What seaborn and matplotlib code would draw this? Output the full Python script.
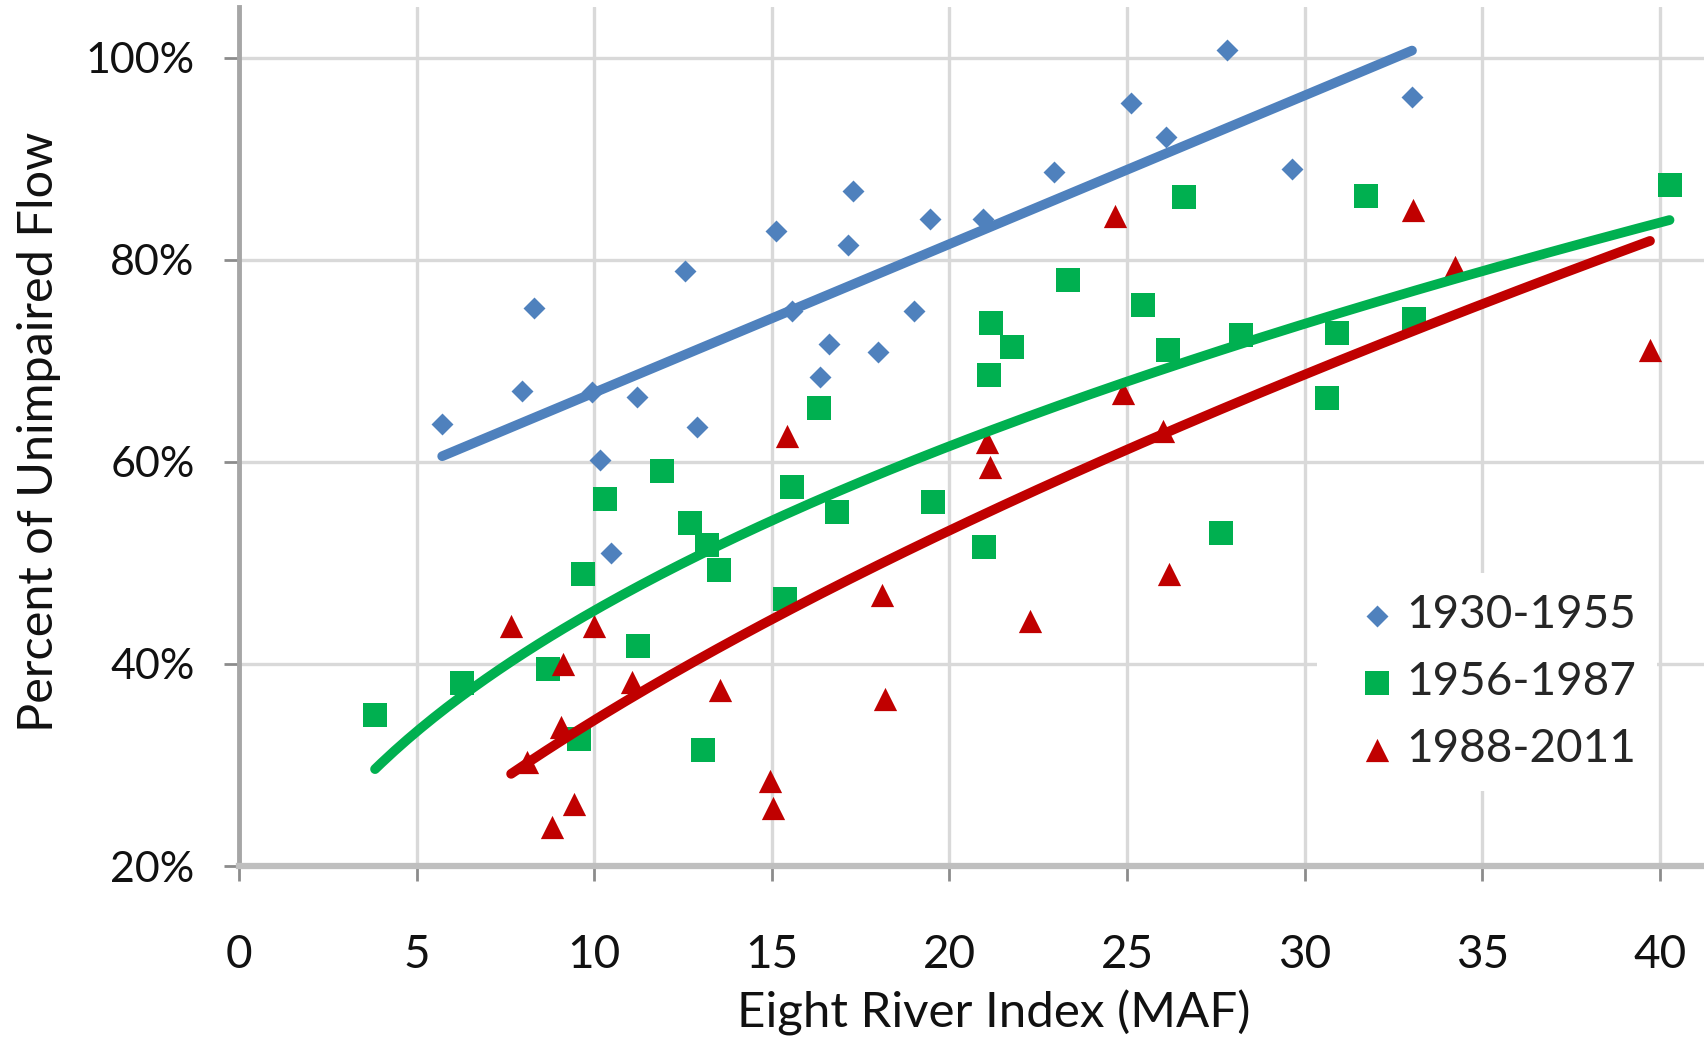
import numpy as np
import matplotlib
matplotlib.use("Agg")
import matplotlib.pyplot as plt
import seaborn as sns

# ---------------- data ----------------
x_1930 = [5.72, 7.97, 8.31, 9.94, 10.16, 10.47, 11.19, 12.56, 12.9, 15.11, 15.56, 16.36, 16.62,
          17.15, 17.28, 17.99, 19.0, 19.44, 20.94, 22.94, 25.1, 26.1, 27.82, 29.63, 33.02]
y_1930 = [63.7, 67.0, 75.25, 66.9, 60.2, 51.0, 66.4, 78.9, 63.4, 82.8, 74.9, 68.4, 71.7,
          81.4, 86.8, 70.9, 74.9, 84.0, 84.0, 88.65, 95.5, 92.1, 100.76, 89.0, 96.1]

x_1956 = [3.83, 6.27, 8.69, 9.58, 9.67, 10.31, 11.22, 11.9, 12.7, 13.07, 13.17, 13.5, 15.37, 15.56,
          16.33, 16.83, 19.55, 20.98, 21.12, 21.16, 21.75, 23.33, 25.46, 26.14, 26.6, 27.65,
          28.2, 30.62, 30.91, 31.72, 33.08, 40.27]
y_1956 = [34.9, 38.1, 39.5, 32.6, 48.85, 56.3, 41.75, 59.1, 53.9, 31.5, 51.75, 49.3, 46.4, 57.5,
          65.35, 55.05, 56.0, 51.6, 68.6, 73.7, 71.4, 78.0, 75.5, 71.05, 86.2, 53.0,
          72.5, 66.3, 72.7, 86.3, 74.1, 87.4]

x_1988 = [7.66, 8.1, 8.8, 9.07, 9.13, 9.42, 9.98, 11.07, 13.54, 14.95, 15.03, 15.43, 18.11, 18.18,
          21.05, 21.14, 22.27, 24.65, 24.89, 26.0, 26.17, 33.05, 34.24, 39.72]
y_1988 = [43.7, 30.3, 23.9, 33.8, 40.0, 26.1, 43.7, 38.2, 37.4, 28.4, 25.7, 62.5, 46.8, 36.5,
          62.0, 59.5, 44.2, 84.3, 66.8, 63.0, 48.85, 84.9, 79.3, 71.1]

series_labels = ["1930-1955", "1956-1987", "1988-2011"]
x_ticks = [0, 5, 10, 15, 20, 25, 30, 35, 40]
y_ticks = [20, 40, 60, 80, 100]
y_tick_labels = ["20%", "40%", "60%", "80%", "100%"]

# ---------------- style ----------------
sns.set_theme(style="white")
plt.rcParams['font.family'] = ['Lato', 'DejaVu Sans']

colors = ["#4F81BD", "#00B050", "#C00000"]
markers = ["D", "s", "^"]
sizes = [125, 300, 280]
fits = ["linear", "power_log", "power_ls"]


def power_fit_ls(xv, yv):
    """least-squares fit of y = a * x**b (in linear space)"""
    best = None
    for b in np.linspace(0.05, 1.5, 2901):
        xb = xv ** b
        a = np.sum(yv * xb) / np.sum(xb * xb)
        sse = np.sum((yv - a * xb) ** 2)
        if best is None or sse < best[0]:
            best = (sse, a, b)
    return best[1], best[2]


def power_fit_log(xv, yv):
    """fit of y = a * x**b in log-log space (spreadsheet style)"""
    b, lna = np.polyfit(np.log(xv), np.log(yv), 1)
    return np.exp(lna), b


W, H = 1704, 1037
fig = plt.figure(figsize=(W / 100, H / 100), dpi=100)
left_px, right_px, top_px, bottom_px = 239, 1704, 7, 866
ax = fig.add_axes([left_px / W, 1 - bottom_px / H, (right_px - left_px) / W, (bottom_px - top_px) / H])

xs_all = [x_1930, x_1956, x_1988]
ys_all = [y_1930, y_1956, y_1988]

for xv, yv, lab, c, m, s, fit in zip(xs_all, ys_all, series_labels, colors, markers, sizes, fits):
    xv = np.asarray(xv, float)
    yv = np.asarray(yv, float)
    sns.scatterplot(x=xv, y=yv, ax=ax, marker=m, s=s, color=c, linewidth=0,
                    label=lab, zorder=3, legend=False)
    xf = np.linspace(xv.min(), xv.max(), 200)
    if fit == "linear":
        k, b = np.polyfit(xv, yv, 1)
        yf = k * xf + b
    elif fit == "power_log":
        a, bexp = power_fit_log(xv, yv)
        yf = a * xf ** bexp
    else:
        a, bexp = power_fit_ls(xv, yv)
        yf = a * xf ** bexp
    sns.lineplot(x=xf, y=yf, ax=ax, color=c, linewidth=7, zorder=4, legend=False,
                 solid_capstyle="round", sort=False)

ax.set_xlim(0, 41.24)
ax.set_ylim(20, 105)
ax.set_xticks(x_ticks)
ax.set_xticklabels([str(t) for t in x_ticks])
ax.set_yticks(y_ticks)
ax.set_yticklabels(y_tick_labels)

ax.grid(True, color="#D9D9D9", linewidth=2.4, zorder=0)
ax.set_axisbelow(True)
for sp in ["top", "right"]:
    ax.spines[sp].set_visible(False)
ax.spines["left"].set_color("#A6A6A6")
ax.spines["left"].set_linewidth(3.5)
ax.spines["bottom"].set_color("#BFBFBF")
ax.spines["bottom"].set_linewidth(4.5)

ax.tick_params(axis="both", direction="out", length=11, width=2, color="#8C8C8C",
               labelsize=33, labelcolor="#111111")
ax.tick_params(axis="x", pad=38, bottom=True)
ax.tick_params(axis="y", pad=21, left=True, labelsize=31)

ax.set_xlabel("Eight River Index (MAF)", fontsize=35.5, color="#111111")
ax.set_ylabel("Percent of Unimpaired Flow", fontsize=35, color="#111111")
ax.xaxis.set_label_coords(0.5154, -0.171)
ax.xaxis.label.set_verticalalignment("center")
ax.yaxis.set_label_coords(-0.1365, 0.505)
ax.yaxis.label.set_verticalalignment("center")

h, l = ax.get_legend_handles_labels()
leg = ax.legend(h, l, loc="upper left", bbox_to_anchor=(1317 / W, 1 - 573 / H),
                bbox_transform=fig.transFigure, frameon=True, fontsize=33,
                handlelength=1.7, handletextpad=-0.2, labelspacing=0.55, borderpad=0.45,
                borderaxespad=0)
leg.get_frame().set_facecolor("white")
leg.get_frame().set_edgecolor("none")
leg.get_frame().set_alpha(1.0)
leg.set_zorder(5)

fig.savefig("out.png", dpi=100)
